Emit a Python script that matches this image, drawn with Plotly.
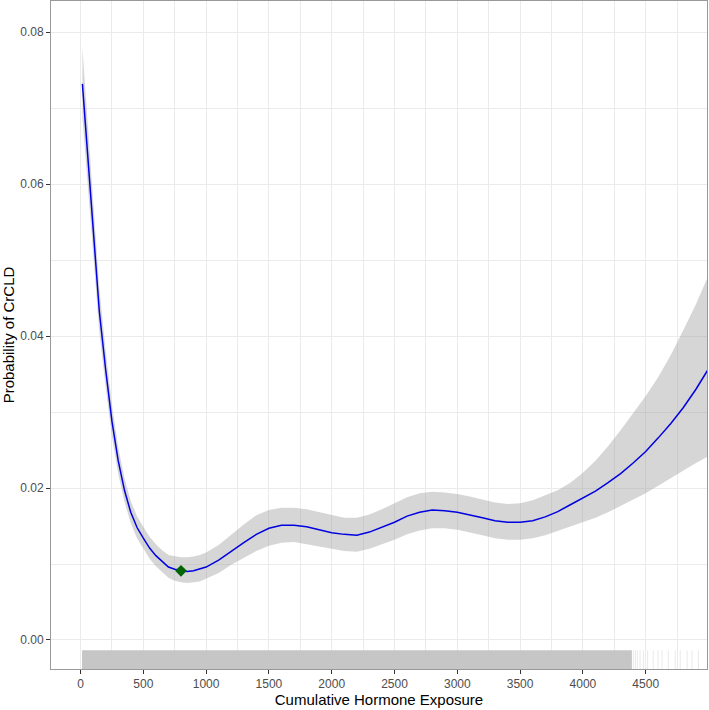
import plotly.graph_objects as go

# ---- data ----
exposure = [15, 50, 100, 150, 200, 250, 300, 350, 400, 450, 500, 550, 600, 650, 700,
            750, 800, 850, 900, 950, 1000, 1100, 1200, 1300, 1400, 1500, 1600, 1700,
            1800, 1900, 2000, 2100, 2200, 2300, 2400, 2500, 2600, 2700, 2800, 2900,
            3000, 3100, 3200, 3300, 3400, 3500, 3600, 3700, 3800, 3900, 4000, 4100,
            4200, 4300, 4400, 4500, 4600, 4700, 4800, 4900, 5000]
prob = [0.0732, 0.0654, 0.0543, 0.0432, 0.0356, 0.0288, 0.0236, 0.0197, 0.0168, 0.0148,
        0.0134, 0.0121, 0.0111, 0.0103, 0.0096, 0.0093, 0.0091, 0.0090, 0.0091, 0.0093,
        0.0096, 0.0105, 0.0117, 0.0128, 0.0139, 0.0147, 0.0151, 0.0151, 0.0149, 0.0145,
        0.0141, 0.0139, 0.0138, 0.0142, 0.0148, 0.0155, 0.0163, 0.0168, 0.0171, 0.0170,
        0.0168, 0.0165, 0.0161, 0.0157, 0.0155, 0.0155, 0.0157, 0.0162, 0.0169, 0.0178,
        0.0187, 0.0196, 0.0207, 0.0219, 0.0233, 0.0248, 0.0266, 0.0285, 0.0306, 0.0330,
        0.0357]
upper = [0.0779, 0.0695, 0.0578, 0.0462, 0.0381, 0.0309, 0.0254, 0.0213, 0.0183, 0.0163,
         0.0149, 0.0136, 0.0126, 0.0118, 0.0112, 0.0110, 0.0109, 0.0109, 0.0110, 0.0112,
         0.0115, 0.0125, 0.0139, 0.0152, 0.0164, 0.0171, 0.0174, 0.0174, 0.0172, 0.0168,
         0.0164, 0.0161, 0.0161, 0.0165, 0.0172, 0.0180, 0.0188, 0.0193, 0.0195, 0.0194,
         0.0192, 0.0189, 0.0185, 0.0181, 0.0179, 0.0180, 0.0184, 0.0190, 0.0197, 0.0207,
         0.0220, 0.0236, 0.0255, 0.0276, 0.0298, 0.0321, 0.0346, 0.0375, 0.0408, 0.0442,
         0.0480]
lower = [0.0688, 0.0615, 0.0510, 0.0405, 0.0333, 0.0268, 0.0219, 0.0182, 0.0154, 0.0134,
         0.0120, 0.0107, 0.0097, 0.0089, 0.0082, 0.0078, 0.0076, 0.0075, 0.0076, 0.0077,
         0.0080, 0.0088, 0.0099, 0.0108, 0.0117, 0.0124, 0.0128, 0.0129, 0.0127, 0.0123,
         0.0120, 0.0117, 0.0116, 0.0120, 0.0126, 0.0132, 0.0139, 0.0144, 0.0147, 0.0147,
         0.0145, 0.0142, 0.0138, 0.0134, 0.0132, 0.0132, 0.0134, 0.0138, 0.0144, 0.0150,
         0.0155, 0.0161, 0.0168, 0.0176, 0.0185, 0.0193, 0.0202, 0.0212, 0.0223, 0.0233,
         0.0242]
min_point_x = [800]
min_point_y = [0.0091]

# rug: densely covered span of observed exposures, plus sparse high values
rug_dense_span = [12, 4390]
rug_sparse = [4402, 4418, 4433, 4455, 4482, 4515, 4560, 4598, 4630, 4680, 4735,
              4775, 4830, 4868, 4920]

x_ticks = [0, 500, 1000, 1500, 2000, 2500, 3000, 3500, 4000, 4500]
y_ticks = [0.00, 0.02, 0.04, 0.06, 0.08]
y_tick_labels = ["0.00", "0.02", "0.04", "0.06", "0.08"]

FONT = "Liberation Sans, Arial, sans-serif"
RUG_LEN = 0.028

fig = go.Figure()

# confidence ribbon
fig.add_trace(go.Scatter(
    x=exposure + exposure[::-1], y=upper + lower[::-1],
    fill="toself", fillcolor="rgba(153,153,153,0.4)",
    line=dict(width=0), mode="lines", hoverinfo="skip", showlegend=False))

# fitted line
fig.add_trace(go.Scatter(
    x=exposure, y=prob, mode="lines",
    line=dict(color="#0000e0", width=1.5), showlegend=False))

# minimum point
fig.add_trace(go.Scatter(
    x=min_point_x, y=min_point_y, mode="markers",
    marker=dict(symbol="diamond", size=9, color="#006400"), showlegend=False))

# rug (on an overlaid 0-1 axis)
d0, d1 = rug_dense_span
fig.add_trace(go.Scatter(
    x=[d0, d1, d1, d0, d0], y=[0, 0, RUG_LEN, RUG_LEN, 0],
    fill="toself", fillcolor="#c6c6c6", line=dict(width=0),
    mode="lines", yaxis="y2", hoverinfo="skip", showlegend=False))
rx, ry = [], []
for v in rug_sparse:
    rx += [v, v, None]
    ry += [0, RUG_LEN, None]
fig.add_trace(go.Scatter(
    x=rx, y=ry, mode="lines", line=dict(color="rgba(150,150,150,0.2)", width=1),
    yaxis="y2", hoverinfo="skip", showlegend=False))

grid = "#ebebeb"
fig.update_layout(
    width=709, height=710,
    margin=dict(l=51, r=2, t=1, b=41, pad=0),
    paper_bgcolor="white", plot_bgcolor="white",
    font=dict(family=FONT, size=12, color="#4d4d4d"),
    xaxis=dict(
        range=[-235, 4988], tickvals=x_ticks, ticktext=[str(t) for t in x_ticks],
        showgrid=True, gridcolor=grid, gridwidth=1,
        minor=dict(showgrid=True, gridcolor=grid, gridwidth=1, dtick=250, tick0=0),
        zeroline=False, showline=True, linecolor="#999999", linewidth=1, mirror=True,
        ticks="outside", ticklen=4, tickcolor="#333333", tickwidth=1,
        tickfont=dict(size=12, color="#4d4d4d"),
        title=dict(text="Cumulative Hormone Exposure", standoff=4,
                   font=dict(size=15, color="black")),
        automargin=False),
    yaxis=dict(
        range=[-0.00382, 0.0841], tickvals=y_ticks, ticktext=y_tick_labels,
        showgrid=True, gridcolor=grid, gridwidth=1,
        minor=dict(showgrid=True, gridcolor=grid, gridwidth=1, dtick=0.01, tick0=0),
        zeroline=False, showline=True, linecolor="#999999", linewidth=1, mirror=True,
        ticks="outside", ticklen=4, tickcolor="#333333", tickwidth=1,
        tickfont=dict(size=12, color="#4d4d4d"),
        title=dict(text="Probability of CrCLD", standoff=4,
                   font=dict(size=15, color="black")),
        automargin=False),
    yaxis2=dict(range=[0, 1], overlaying="y", visible=False, fixedrange=True),
)

fig.write_html("out.html")
